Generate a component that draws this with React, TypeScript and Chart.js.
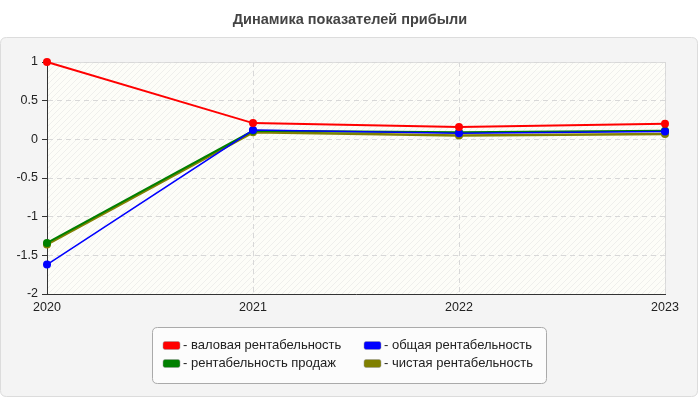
import React, { useEffect, useRef } from 'react'
import { Chart, registerables, ChartConfiguration, Plugin } from 'chart.js'

Chart.register(...registerables)

const labels = ['2020', '2021', '2022', '2023']
const grossMargin = [1, 0.21, 0.16, 0.2]
const totalMargin = [-1.62, 0.12, 0.08, 0.1]
const salesMargin = [-1.34, 0.11, 0.09, 0.11]
const netMargin = [-1.36, 0.09, 0.05, 0.07]

const seriesNames = [
    'валовая рентабельность',
    'общая рентабельность',
    'рентабельность продаж',
    'чистая рентабельность',
]
const title = 'Динамика показателей прибыли'
const FONT = '"Liberation Sans", Arial, sans-serif'

function roundRect(ctx: CanvasRenderingContext2D, x: number, y: number, w: number, h: number, r: number) {
    ctx.beginPath()
    ctx.moveTo(x + r, y)
    ctx.lineTo(x + w - r, y)
    ctx.quadraticCurveTo(x + w, y, x + w, y + r)
    ctx.lineTo(x + w, y + h - r)
    ctx.quadraticCurveTo(x + w, y + h, x + w - r, y + h)
    ctx.lineTo(x + r, y + h)
    ctx.quadraticCurveTo(x, y + h, x, y + h - r)
    ctx.lineTo(x, y + r)
    ctx.quadraticCurveTo(x, y, x + r, y)
    ctx.closePath()
}

function hatch(ctx: CanvasRenderingContext2D) {
    const c = document.createElement('canvas')
    c.width = 6
    c.height = 6
    const p = c.getContext('2d')!
    p.fillStyle = '#fdfdf8'
    p.fillRect(0, 0, 6, 6)
    p.strokeStyle = '#efefec'
    p.lineWidth = 1
    p.beginPath()
    p.moveTo(0, 6)
    p.lineTo(6, 0)
    p.moveTo(-3, 3)
    p.lineTo(3, -3)
    p.moveTo(3, 9)
    p.lineTo(9, 3)
    p.stroke()
    return ctx.createPattern(c, 'repeat')!
}

// background box, title and plot area
const backdrop: Plugin = {
    id: 'backdrop',
    beforeDraw(chart) {
        const { ctx, chartArea: a } = chart
        ctx.save()
        ctx.fillStyle = '#ffffff'
        ctx.fillRect(0, 0, chart.width, chart.height)
        roundRect(ctx, 0.5, 37.5, 697, 359, 6)
        ctx.fillStyle = '#f4f4f4'
        ctx.fill()
        ctx.strokeStyle = '#dcdcdc'
        ctx.stroke()
        ctx.font = 'bold 14.5px ' + FONT
        ctx.fillStyle = '#444'
        ctx.textAlign = 'center'
        ctx.textBaseline = 'middle'
        ctx.fillText(title, 350, 20)
        ctx.fillStyle = hatch(ctx)
        ctx.fillRect(a.left, a.top, a.right - a.left, a.bottom - a.top)
        ctx.strokeStyle = '#dddddd'
        ctx.lineWidth = 1
        ctx.strokeRect(a.left + 0.5, a.top + 0.5, a.right - a.left, a.bottom - a.top)
        ctx.restore()
    },
}

// two-column legend in a rounded box
const boxLegend: Plugin = {
    id: 'boxLegend',
    afterDraw(chart) {
        const { ctx } = chart
        ctx.save()
        roundRect(ctx, 152.5, 327.5, 394, 56, 5)
        ctx.fillStyle = '#fcfcfc'
        ctx.fill()
        ctx.strokeStyle = '#aaaaaa'
        ctx.lineWidth = 1
        ctx.stroke()
        const cols = [163, 364]
        const rows = [345.5, 363.5]
        chart.data.datasets.forEach((d, k) => {
            const ds = d as any
            const x = cols[k % 2]
            const y = rows[Math.floor(k / 2)]
            roundRect(ctx, x, y - 4, 17, 8, 2)
            ctx.fillStyle = ds.borderColor
            ctx.fill()
            ctx.strokeStyle = '#999'
            ctx.lineWidth = 0.5
            ctx.stroke()
            ctx.font = '13px ' + FONT
            ctx.fillStyle = '#222'
            ctx.textAlign = 'left'
            ctx.textBaseline = 'middle'
            ctx.fillText('- ' + ds.label, x + 20, y)
        })
        ctx.restore()
    },
}

function line(label: string, data: number[], color: string, width: number) {
    return {
        label,
        data,
        borderColor: color,
        backgroundColor: color,
        borderWidth: width,
        pointRadius: 4,
        pointHoverRadius: 4,
        pointBorderWidth: 0,
        tension: 0,
        clip: false,
    }
}

export default function App() {
    const ref = useRef<HTMLCanvasElement | null>(null)

    useEffect(() => {
        if (!ref.current) {
            return
        }

        const cfg: ChartConfiguration = {
            type: 'line',
            data: {
                labels,
                datasets: [
                    line(seriesNames[0], grossMargin, '#ff0000', 2),
                    line(seriesNames[1], totalMargin, '#0000ff', 1.5),
                    line(seriesNames[2], salesMargin, '#008000', 2),
                    line(seriesNames[3], netMargin, '#808000', 2.5),
                ] as any,
            },
            options: {
                animation: false,
                responsive: false,
                maintainAspectRatio: false,
                layout: { padding: { left: 0, top: 62, right: 35, bottom: 86 } },
                plugins: {
                    legend: { display: false },
                    title: { display: false },
                    tooltip: { enabled: false },
                },
                scales: {
                    x: {
                        offset: false,
                        afterFit: (s: any) => {
                            s.height = 20
                        },
                        grid: {
                            color: '#d8d8d8',
                            drawTicks: false,
                        },
                        border: { color: '#333', width: 1, dash: [5, 4] },
                        ticks: {
                            color: '#222',
                            padding: 6,
                            maxRotation: 0,
                            autoSkip: false,
                            font: { family: FONT, size: 12.5 },
                        },
                    },
                    y: {
                        min: -2,
                        max: 1,
                        afterFit: (s: any) => {
                            s.width = 47
                        },
                        grid: {
                            color: '#d8d8d8',
                            tickColor: '#333',
                            tickLength: 5,
                            tickBorderDash: [],
                        },
                        border: { color: '#333', width: 1, dash: [5, 4] },
                        ticks: {
                            stepSize: 0.5,
                            color: '#222',
                            padding: 4,
                            font: { family: FONT, size: 12.5 },
                            callback: (v: any) => String(v),
                        },
                    },
                },
            },
            plugins: [backdrop, boxLegend],
        }

        const chart = new Chart(ref.current, cfg)
        return () => chart.destroy()
    }, [])

    return (
        <div style={{ position: 'fixed', left: 0, top: 0, width: 700, height: 400 }}>
            <canvas ref={ref} width={700} height={400} style={{ width: 700, height: 400 }}></canvas>
        </div>
    )
}
